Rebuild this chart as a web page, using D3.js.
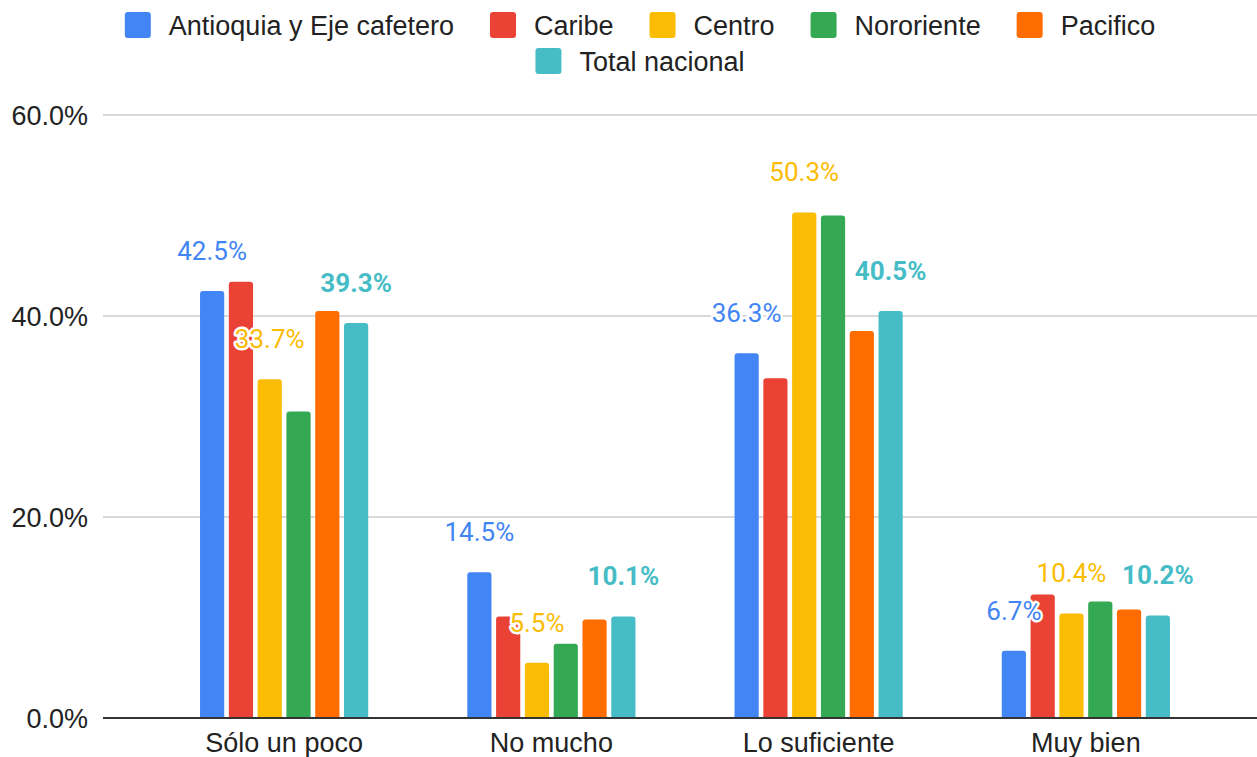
<!DOCTYPE html>
<html>
<head>
<meta charset="utf-8">
<script src="https://cdn.jsdelivr.net/npm/d3@7"></script>
<style>
  html, body { margin: 0; padding: 0; background: #fff; }
  svg { display: block; }
</style>
</head>
<body>
<svg id="chart" width="1257" height="757"></svg>
<script>
const categories = ["Sólo un poco", "No mucho", "Lo suficiente", "Muy bien"];
const seriesNames = ["Antioquia y Eje cafetero", "Caribe", "Centro", "Nororiente", "Pacifico", "Total nacional"];
const antioquia = [42.5, 14.5, 36.3, 6.7];
const caribe = [43.4, 10.1, 33.8, 12.3];
const centro = [33.7, 5.5, 50.3, 10.4];
const nororiente = [30.5, 7.4, 50.0, 11.6];
const pacifico = [40.5, 9.8, 38.5, 10.8];
const totalNacional = [39.3, 10.1, 40.5, 10.2];
const yTicks = [0, 20, 40, 60];
const seriesColors = ["#4285F4", "#EA4335", "#FBBC04", "#34A853", "#FF6D01", "#46BDC6"];
const labeledSeries = { 0: 400, 2: 400, 5: 700 };

const seriesValues = [antioquia, caribe, centro, nororiente, pacifico, totalNacional];
const series = seriesNames.map((name, i) => ({ name, color: seriesColors[i], values: seriesValues[i], idx: i }));

const svg = d3.select("#chart");
const W = 1257;
const FS = 27;

const x0 = d3.scaleBand().domain(categories).range([150.5, 1219.5]).padding(0);
const x1 = d3.scaleBand().domain(d3.range(series.length)).range([0, x0.bandwidth()])
  .paddingInner(0.16).paddingOuter(1.72);
const y = d3.scaleLinear().domain([0, 60]).range([718, 115]);

// gridlines
svg.append("g").selectAll("line").data(yTicks.filter(t => t > 0)).join("line")
  .attr("x1", 103).attr("x2", W).attr("y1", d => y(d)).attr("y2", d => y(d))
  .attr("stroke", "#cccccc").attr("stroke-width", 1.5);

// y tick labels
svg.append("g").selectAll("text").data(yTicks).join("text")
  .attr("x", 88).attr("y", d => y(d)).attr("dy", "0.36em")
  .attr("text-anchor", "end")
  .attr("font-family", "'Liberation Sans', Arial, sans-serif")
  .attr("font-size", FS).attr("fill", "#222")
  .text(d => d3.format(".1f")(d) + "%");

// bars
function roundedTop(x, yTop, w, h, r) {
  r = Math.min(r, h, w / 2);
  return `M${x},${yTop + h}V${yTop + r}Q${x},${yTop} ${x + r},${yTop}H${x + w - r}Q${x + w},${yTop} ${x + w},${yTop + r}V${yTop + h}Z`;
}
const groups = svg.append("g").selectAll("g").data(categories).join("g")
  .attr("transform", d => `translate(${x0(d)},0)`);
groups.selectAll("path").data((c, ci) => series.map(s => ({ s, v: s.values[ci] }))).join("path")
  .attr("d", d => roundedTop(x1(d.s.idx), y(d.v), x1.bandwidth(), y(0) - y(d.v), 3))
  .attr("fill", d => d.s.color);

// axis baseline
svg.append("line").attr("x1", 103).attr("x2", W).attr("y1", y(0)).attr("y2", y(0))
  .attr("stroke", "#333").attr("stroke-width", 2);

// category labels
svg.append("g").selectAll("text").data(categories).join("text")
  .attr("x", d => x0(d) + x0.bandwidth() / 2).attr("y", 752)
  .attr("text-anchor", "middle")
  .attr("font-family", "'Liberation Sans', Arial, sans-serif")
  .attr("font-size", FS).attr("fill", "#222")
  .text(d => d);

// data labels
const labelData = [];
categories.forEach((c, ci) => {
  series.forEach(s => {
    if (labeledSeries[s.idx] !== undefined) labelData.push({ c, s, v: s.values[ci] });
  });
});
svg.append("g").selectAll("text").data(labelData).join("text")
  .attr("x", d => x0(d.c) + x1(d.s.idx) + x1.bandwidth() / 2)
  .attr("y", d => y(d.v) - 31)
  .attr("text-anchor", "middle")
  .attr("font-family", "Roboto, sans-serif")
  .attr("font-size", 26)
  .attr("font-weight", d => labeledSeries[d.s.idx])
  .attr("fill", d => d.s.color)
  .attr("stroke", "#fff").attr("stroke-width", 5).attr("stroke-linejoin", "round")
  .attr("paint-order", "stroke")
  .text(d => d3.format(".1f")(d.v) + "%");

// legend
const legend = svg.append("g");
const rows = [series.slice(0, 5), series.slice(5)];
const rowY = [25, 61];
const sq = 26, gapText = 18, gapItem = 36;
rows.forEach((row, ri) => {
  const g = legend.append("g");
  let xPos = 0;
  row.forEach(s => {
    const item = g.append("g").attr("transform", `translate(${xPos},0)`);
    item.append("rect").attr("x", 0).attr("y", rowY[ri] - sq / 2).attr("width", sq).attr("height", sq)
      .attr("rx", 3).attr("fill", s.color);
    const t = item.append("text").attr("x", sq + gapText).attr("y", rowY[ri]).attr("dy", "0.36em")
      .attr("font-family", "'Liberation Sans', Arial, sans-serif")
      .attr("font-size", FS).attr("fill", "#222").text(s.name);
    xPos += sq + gapText + t.node().getComputedTextLength() + gapItem;
  });
  const total = xPos - gapItem;
  g.attr("transform", `translate(${640 - total / 2},0)`);
});
</script>
</body>
</html>
